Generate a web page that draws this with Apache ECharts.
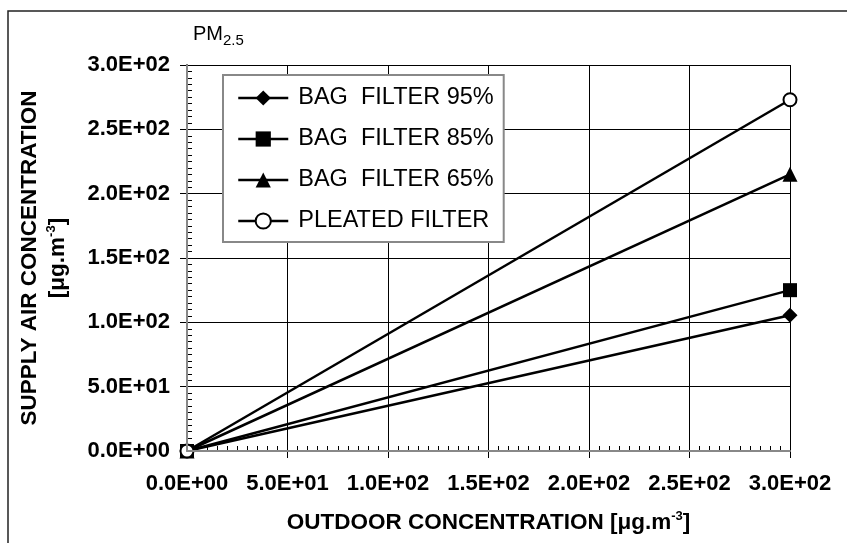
<!DOCTYPE html>
<html>
<head>
<meta charset="utf-8">
<script src="https://cdn.jsdelivr.net/npm/echarts@6/dist/echarts.min.js"></script>
<style>
	html, body { margin: 0; padding: 0; background: #fff; }
	#main { width: 847px; height: 543px; }
</style>
</head>
<body>
<div id="main"></div>
<script>
	// outdoor concentration (x) and supply air concentration (y) per filter
	var outdoor = [ 0, 300 ];
	var bag95 = [ 0, 105.5 ];
	var bag85 = [ 0, 125 ];
	var bag65 = [ 0, 215 ];
	var pleated = [ 0, 273 ];
	var seriesNames = [ 'BAG  FILTER 95%', 'BAG  FILTER 85%', 'BAG  FILTER 65%', 'PLEATED FILTER' ];
	var seriesSymbols = [ 'diamond', 'rect', 'triangle', 'emptyCircle' ];
	var seriesSizes = [ 15, 14, 15, 13 ];
	var axisMin = 0;
	var axisMax = 300;
	var axisStep = 50;

	var FONT = '"Liberation Sans", Arial, sans-serif';

	// 3.0E+02 style labels
	function sci(v) {
		if (v === 0) {
			return '0.0E+00';
		}
		var e = Math.floor(Math.log10(v) + 1e-9);
		var m = v / Math.pow(10, e);
		var es = Math.abs(e) < 10 ? '0' + Math.abs(e) : '' + Math.abs(e);
		return m.toFixed(1) + 'E' + (e < 0 ? '-' : '+') + es;
	}

	function toPairs(ys) {
		var out = [];
		for (var i = 0; i < outdoor.length; i++) {
			out.push([ outdoor[i], ys[i] ]);
		}
		return out;
	}

	var allData = [ bag95, bag85, bag65, pleated ];
	var series = [];
	for (var i = 0; i < allData.length; i++) {
		series.push({
			name : seriesNames[i],
			type : 'line',
			data : toPairs(allData[i]),
			symbol : seriesSymbols[i],
			symbolSize : seriesSizes[i],
			showAllSymbol : true,
			clip : false,
			lineStyle : { color : '#000', width : 2.5 },
			itemStyle : {
				color : '#000',
				borderWidth : seriesSymbols[i] == 'emptyCircle' ? 2 : 0
			},
			emphasis : { disabled : true },
			animation : false,
			z : 3
		});
	}

	var titleRich = {
		t : { fontFamily : FONT, fontSize : 22.5, fontWeight : 'bold', color : '#000', lineHeight : 28 },
		s : { fontFamily : FONT, fontSize : 13, fontWeight : 'bold', color : '#000', lineHeight : 15, padding : [ 0, 0, 13, 0 ] }
	};

	var option = {
		backgroundColor : '#fff',
		animation : false,
		grid : { left : 187, right : 57, top : 65, bottom : 92, show : false },
		legend : {
			orient : 'vertical',
			left : 223,
			top : 75,
			data : seriesNames,
			selectedMode : false,
			itemWidth : 50,
			itemHeight : 19,
			itemGap : 17,
			padding : [ 11, 10, 9, 14 ],
			backgroundColor : '#fff',
			borderColor : '#888',
			borderWidth : 2,
			lineStyle : { color : '#000', width : 2.5 },
			textStyle : { fontFamily : FONT, fontSize : 23.5, color : '#000', lineHeight : 23, padding : [ 0, 0, 0, 5 ] }
		},
		graphic : [ {
			type : 'rect',
			shape : { x : 8, y : 11, width : 900, height : 600 },
			style : { fill : 'none', stroke : '#222', lineWidth : 1.5 },
			silent : true
		}, {
			type : 'text',
			left : 193,
			top : 24,
			style : { text : 'PM', fontFamily : FONT, fontSize : 20, fill : '#000' }
		}, {
			type : 'text',
			left : 223,
			top : 33,
			style : { text : '2.5', fontFamily : FONT, fontSize : 15, fill : '#000' }
		} ],
		xAxis : [ {
			type : 'value',
			min : axisMin,
			max : axisMax,
			interval : axisStep,
			position : 'bottom',
			name : '{t|OUTDOOR CONCENTRATION [\u03bcg.m}{s|-3}{t|]}',
			nameLocation : 'middle',
			nameGap : 58,
			nameTextStyle : { rich : titleRich },
			axisLine : { show : true, lineStyle : { color : '#111', width : 2 } },
			axisTick : { show : true, inside : true, length : -7, lineStyle : { color : '#000', width : 1 } },
			minorTick : { show : true, splitNumber : 10, length : 5, lineStyle : { color : '#000', width : 1 } },
			axisLabel : { formatter : sci, fontFamily : FONT, fontSize : 22, fontWeight : 'bold', color : '#000', margin : 22 },
			splitLine : { show : true, lineStyle : { color : '#000', width : 1 } }
		}, {
			type : 'value',
			min : axisMin,
			max : axisMax,
			position : 'top',
			axisLine : { show : true, lineStyle : { color : '#888', width : 2 } },
			axisTick : { show : false },
			axisLabel : { show : false },
			splitLine : { show : false },
			z : 5
		} ],
		yAxis : [ {
			type : 'value',
			min : axisMin,
			max : axisMax,
			interval : axisStep,
			position : 'left',
			name : '{t|SUPPLY AIR CONCENTRATION}\n{t|[\u03bcg.m}{s|-3}{t|]}',
			nameLocation : 'middle',
			nameRotate : 90,
			nameGap : 115,
			nameTextStyle : { rich : titleRich, align : 'center' },
			axisLine : { show : true, lineStyle : { color : '#111', width : 2 } },
			axisTick : { show : true, inside : true, length : -7, lineStyle : { color : '#000', width : 1 } },
			minorTick : { show : true, splitNumber : 10, length : 5, lineStyle : { color : '#000', width : 1 } },
			axisLabel : { formatter : sci, fontFamily : FONT, fontSize : 22, fontWeight : 'bold', color : '#000', margin : 17 },
			splitLine : { show : true, lineStyle : { color : '#000', width : 1 } }
		}, {
			type : 'value',
			min : axisMin,
			max : axisMax,
			position : 'right',
			axisLine : { show : true, lineStyle : { color : '#888', width : 2 } },
			axisTick : { show : false },
			axisLabel : { show : false },
			splitLine : { show : false },
			z : 5
		} ],
		series : series
	};

	var mychart = echarts.init(document.getElementById('main'));
	mychart.setOption(option);
</script>
</body>
</html>
